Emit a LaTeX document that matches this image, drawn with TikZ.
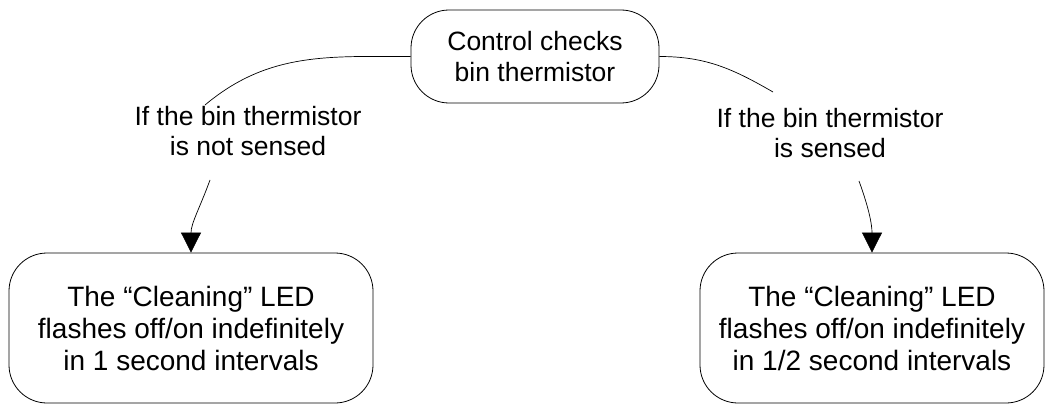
\documentclass[tikz,border=0pt]{standalone}
\usepackage{fontspec}
\setmainfont{Liberation Sans}
\usetikzlibrary{arrows.meta, positioning}

\begin{document}
\begin{tikzpicture}[x=1pt, y=-1pt,
        every node/.style={font=\fontsize{26.5}{30.5}\selectfont, align=center},
        state/.style={draw, line width=0.8pt, rounded corners=38pt, inner sep=0pt},
        result/.style={state, minimum height=150pt, font=\fontsize{28}{32}\selectfont},
        cond/.style={inner sep=0pt},
        link/.style={line width=0.7pt},
        flow/.style={line width=0.7pt, -{Triangle[width=20pt, length=20pt]}}]
        \useasboundingbox (0, 0) rectangle (1045, 404);
        % states
        \node[state, minimum width=248pt, minimum height=93pt] (check) at (535, 56.5) {Control checks\\bin thermistor};
        \node[result, minimum width=364pt] (slow) at (191, 328) {The “Cleaning” LED\\flashes off/on indefinitely\\in 1 second intervals};
        \node[result, minimum width=344pt] (fast) at (872, 328) {The “Cleaning” LED\\flashes off/on indefinitely\\in 1/2 second intervals};
        % conditions
        \node[cond] (nosense) at (248, 131) {If the bin thermistor\\is not sensed};
        \node[cond] (sense) at (830, 133) {If the bin thermistor\\is sensed};
        \coordinate (nosensein) at (205, 105);
        \coordinate (nosenseout) at (210, 180);
        \coordinate (sensein) at (773, 92);
        \coordinate (senseout) at (859, 181);
        \draw[link] (check.west) to[out=180, in=40] (nosensein);
        \draw[flow] (nosenseout) to[out=250, in=90] (slow.north);
        \draw[link] (check.east) to[out=0, in=150] (sensein);
        \draw[flow] (senseout) to[out=290, in=90] (fast.north);
    \end{tikzpicture}
\end{document}
